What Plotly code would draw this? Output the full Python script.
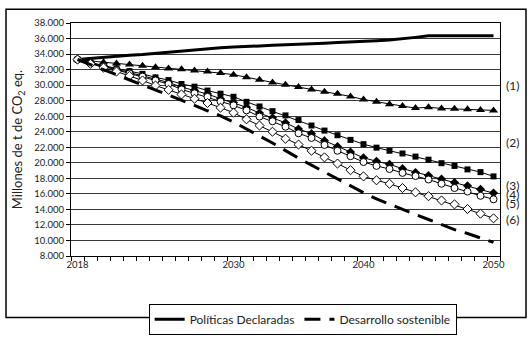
import plotly.graph_objects as go

years = list(range(2018, 2051))

# Políticas Declaradas (solid thick line)
politicas = [33300, 33450, 33600, 33750, 33850, 33950, 34100, 34250, 34400, 34550,
             34700, 34800, 34900, 34950, 35050, 35150, 35200, 35300, 35350, 35400,
             35500, 35550, 35650, 35700, 35800, 35950, 36150, 36350, 36350, 36350,
             36350, 36350, 36350]

# triangles
serie_triangulo = [33300, 33100, 32950, 32800, 32650, 32500, 32300, 32150, 32050, 31900,
                   31750, 31550, 31350, 31000, 30700, 30350, 30050, 29750, 29450, 29150,
                   28900, 28550, 28150, 27850, 27550, 27300, 27050, 27150, 27000, 26950,
                   26900, 26800, 26750]

# filled squares
serie_cuadrado = [33300, 32900, 32550, 32150, 31800, 31450, 31000, 30650, 30150, 29800,
                  29300, 28900, 28500, 27850, 27250, 26650, 26100, 25500, 24800, 24150,
                  23550, 22950, 22400, 21950, 21550, 21200, 20800, 20400, 19950, 19600,
                  19150, 18800, 18250]

# filled diamonds
serie_rombo = [33300, 32850, 32450, 32050, 31650, 31250, 30800, 30350, 29750, 29300,
               28850, 28250, 27750, 27150, 26400, 25800, 25150, 24350, 23750, 22850,
               22100, 21400, 20650, 20200, 19800, 19250, 18750, 18350, 17900, 17450,
               17050, 16600, 16100]

# open circles
serie_circulo = [33300, 32800, 32400, 31950, 31500, 31100, 30600, 30150, 29450, 28950,
                 28500, 27900, 27400, 26750, 25950, 25350, 24650, 23800, 23200, 22300,
                 21550, 20850, 20100, 19600, 19200, 18700, 18300, 17850, 17300, 16750,
                 16300, 15750, 15300]

# open diamonds
serie_rombo_abierto = [33300, 32750, 32250, 31750, 31200, 30600, 29950, 29400, 28800, 28250,
                       27700, 27100, 26450, 25600, 24800, 24000, 23100, 22350, 21550, 20700,
                       19900, 19050, 18250, 17750, 17300, 16750, 16200, 15700, 15150, 14650,
                       14050, 13450, 12850]

# Desarrollo sostenible (dashed thick line)
sostenible = [33300, 32650, 32000, 31350, 30750, 30100, 29400, 28700, 28050, 27400,
              26700, 26050, 25250, 24400, 23450, 22550, 21550, 20600, 19700, 18800,
              17900, 17000, 16150, 15350, 14650, 14000, 13350, 12700, 12050, 11400,
              10900, 10300, 9750]

etiquetas = ["(1)", "(2)", "(3)", "(4)", "(5)", "(6)"]
etiquetas_y = [30000, 22600, 17100, 15900, 14750, 12700]

FONT = "Lato"

fig = go.Figure()

fig.add_trace(go.Scatter(x=years, y=politicas, mode="lines", name="Políticas Declaradas",
                         line=dict(color="black", width=3)))
fig.add_trace(go.Scatter(x=years, y=serie_triangulo, mode="lines+markers", showlegend=False,
                         line=dict(color="black", width=1),
                         marker=dict(symbol="triangle-up", size=8, color="black")))
fig.add_trace(go.Scatter(x=years, y=serie_cuadrado, mode="lines+markers", showlegend=False,
                         line=dict(color="black", width=1),
                         marker=dict(symbol="square", size=6, color="black")))
fig.add_trace(go.Scatter(x=years, y=serie_rombo, mode="lines+markers", showlegend=False,
                         line=dict(color="black", width=1),
                         marker=dict(symbol="diamond", size=7, color="black")))
fig.add_trace(go.Scatter(x=years, y=serie_circulo, mode="lines+markers", showlegend=False,
                         line=dict(color="black", width=1),
                         marker=dict(symbol="circle", size=7, color="white",
                                     line=dict(color="black", width=1))))
fig.add_trace(go.Scatter(x=years, y=serie_rombo_abierto, mode="lines+markers", showlegend=False,
                         line=dict(color="black", width=1),
                         marker=dict(symbol="diamond", size=7, color="white",
                                     line=dict(color="black", width=1))))
fig.add_trace(go.Scatter(x=years, y=sostenible, mode="lines", name="Desarrollo sostenible",
                         line=dict(color="black", width=3, dash="16px,9px")))

for txt, yv in zip(etiquetas, etiquetas_y):
    fig.add_annotation(x=1, xref="paper", y=yv, yref="y", text=txt, showarrow=False,
                       xanchor="left", xshift=4, font=dict(family=FONT, size=12, color="#222"))

# outer frame of the chart
fig.add_shape(type="rect", xref="paper", yref="paper",
              x0=-0.1515, x1=1.0606, y0=-0.264, y1=1.059,
              line=dict(color="black", width=1.5))

fig.update_layout(
    width=530, height=347,
    margin=dict(l=71, r=30, t=23, b=70),
    plot_bgcolor="white", paper_bgcolor="white",
    separators=",.",
    font=dict(family=FONT, color="#222"),
    showlegend=True,
    legend=dict(orientation="h", x=0.54, xanchor="center", y=-0.205, yanchor="top",
                bordercolor="black", borderwidth=1, font=dict(family=FONT, size=12, color="#222"),
                tracegroupgap=0, itemwidth=30),
)

fig.update_xaxes(
    range=[2017.5, 2050.5],
    tickvals=[2018, 2030, 2040, 2050],
    ticks="", showgrid=False,
    showline=True, linecolor="black", linewidth=1, mirror=True,
    tickfont=dict(family=FONT, size=9.5, color="#222"),
    minor=dict(tickmode="linear", tick0=2017.5, dtick=1, ticks="outside",
               ticklen=4, tickcolor="black", showgrid=False),
)

fig.update_yaxes(
    range=[8000, 38000], dtick=2000, tickformat=",d",
    ticks="outside", ticklen=4, tickcolor="black",
    showgrid=True, gridcolor="#3a3a3a", gridwidth=1,
    showline=True, linecolor="black", linewidth=1, mirror=True,
    tickfont=dict(family=FONT, size=9.5, color="#222"),
    title=dict(text="Millones de t de CO<sub>2</sub> eq.", standoff=8,
               font=dict(family=FONT, size=13, color="#222")),
)

# the page body has a default 8px margin; drop it so the 530x347 figure fits the window
fig.write_html("out.html", config={"displayModeBar": False},
               post_script="document.body.style.margin='0';")
